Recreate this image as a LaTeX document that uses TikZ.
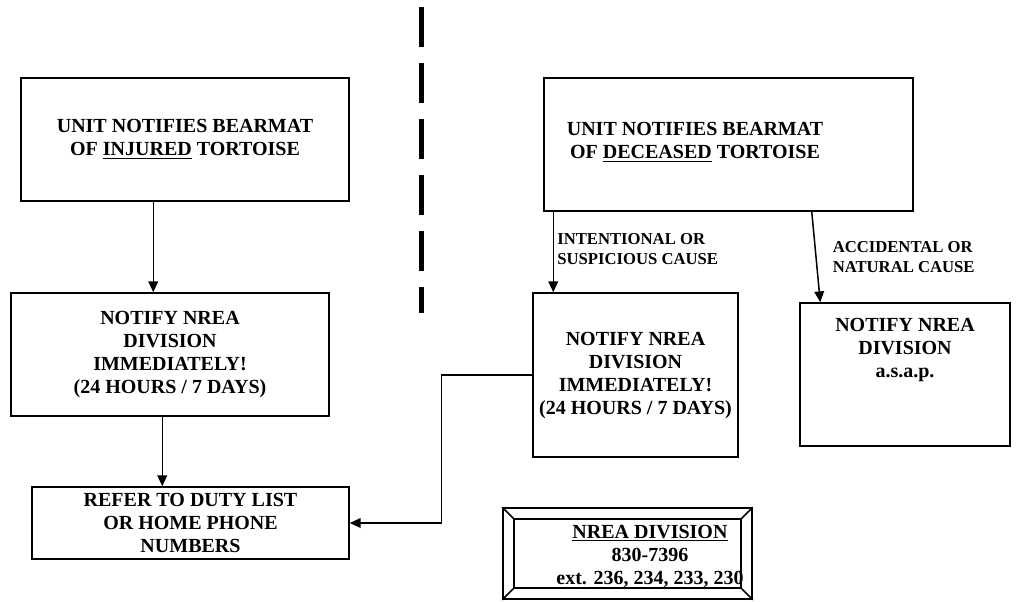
\documentclass[tikz,border=0pt]{standalone}
\usepackage{fontspec}
\setmainfont{Liberation Serif}
\usepackage{tikz}
\usetikzlibrary{arrows.meta,positioning}
\definecolor{ink}{RGB}{0,0,0}
\tikzset{
  stepbox/.style={rectangle, draw=ink, line width=0.9pt, fill=white, align=center,
                  font=\bfseries\fontsize{12}{13.8}\selectfont, inner sep=0pt},
  boxtext/.style={align=center, font=\bfseries\fontsize{12}{13.8}\selectfont, inner sep=0pt},
  arr/.style={-{Triangle[length=6.5pt,width=5.8pt]}, line width=0.9pt, color=ink},
  lbl/.style={align=left, font=\bfseries\fontsize{10}{12}\selectfont, inner sep=1pt},
  divider/.style={line width=3pt, draw=ink, dash pattern=on 24pt off 9.6pt},
}

\begin{document}
\begin{tikzpicture}[x=0.6pt, y=-0.6pt]
  \useasboundingbox (0,0) rectangle (1018,601);
  % dividing line
  \coordinate (divtop) at (421,7);
  \coordinate (divbot) at (421,313);
  \draw[divider] (divtop) -- (divbot);
  % injured tortoise
  \node[stepbox, minimum width=196.8pt, minimum height=73.8pt] (injured) at (185,139.5)
       {UNIT NOTIFIES BEARMAT\\OF \underline{INJURED} TORTOISE};
  \node[stepbox, minimum width=190.8pt, minimum height=73.8pt] (notifynow) at (170,354.5)
       {NOTIFY NREA\\DIVISION\\IMMEDIATELY!\\(24 HOURS / 7 DAYS)};
  \node[stepbox, minimum width=190.2pt, minimum height=43.2pt] (dutylist) at (190.5,523)
       {REFER TO DUTY LIST\\OR HOME PHONE\\NUMBERS};
  % deceased tortoise
  \node[stepbox, minimum width=221.4pt, minimum height=79.8pt] (deceased) at (728.5,144.5) {};
  \node[boxtext] (deceasedtxt) at (695,142)
       {UNIT NOTIFIES BEARMAT\\OF \underline{DECEASED} TORTOISE};
  \node[stepbox, minimum width=123pt, minimum height=98.4pt] (notifynow2) at (635.5,375)
       {NOTIFY NREA\\DIVISION\\IMMEDIATELY!\\(24 HOURS / 7 DAYS)};
  \node[stepbox, minimum width=126pt, minimum height=85.8pt] (asap) at (905,374.5) {};
  \node[boxtext] (asaptxt) at (905,350) {NOTIFY NREA\\DIVISION\\a.s.a.p.};
  % phone number plate
  \node[stepbox, minimum width=149.4pt, minimum height=54.6pt] (plate) at (627.5,553.5) {};
  \node[stepbox, minimum width=136.2pt, minimum height=41.4pt] (platein) at (627.5,553.5) {};
  \foreach \c in {north west, north east, south west, south east}
    \draw[line width=0.9pt, ink] (plate.\c) -- (platein.\c);
  \node[boxtext] (platetxt) at (650,556)
       {\underline{NREA DIVISION}\\830-7396\\ext. 236, 234, 233, 230};
  % connectors
  \coordinate (injuredout) at ([xshift=79.8pt]injured.south west);
  \coordinate (notifyout) at ([xshift=91.2pt]notifynow.south west);
  \coordinate (deceasedleft) at ([xshift=6pt]deceased.south west);
  \coordinate (deceasedright) at ([xshift=-61.2pt]deceased.south east);
  \coordinate (asapin) at ([xshift=12.6pt]asap.north west);
  \draw[arr] (injuredout) -- (injuredout |- notifynow.north);
  \draw[arr] (notifyout) -- (notifyout |- dutylist.north);
  \draw[arr] (notifynow2.west) -- ++(-91,0) |- (dutylist.east);
  \draw[arr] (deceasedleft) -- (deceasedleft |- notifynow2.north)
        node[lbl, pos=0.46, right=1pt] {INTENTIONAL OR\\SUSPICIOUS CAUSE};
  \draw[arr] (deceasedright) -- (asapin)
        node[lbl, pos=0.5, right=8.6pt] {ACCIDENTAL OR\\NATURAL CAUSE};
\end{tikzpicture}
\end{document}
